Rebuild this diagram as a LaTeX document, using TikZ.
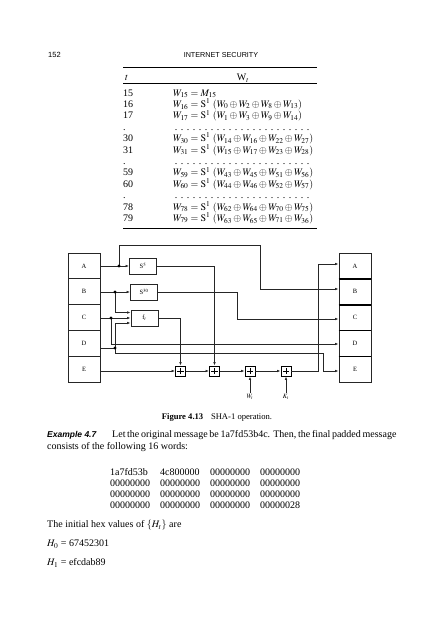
\documentclass[tikz,border=0pt]{standalone}
\usepackage{mathptmx}
\usepackage{fontspec}
\setmainfont{Liberation Serif}
\setsansfont{Liberation Sans}
\usetikzlibrary{arrows.meta}
\begin{document}
\begin{tikzpicture}[x=1pt,y=-1pt,
  conn/.style={line width=0.7pt,draw=black!85},
  arr/.style={conn,-{Latex[length=3.6pt,width=2.6pt]}},
  regbox/.style={draw=black!85,line width=0.7pt,minimum width=32pt,minimum height=25.8pt,inner sep=0pt,font=\fontsize{6.5}{7}\selectfont},
  funbox/.style={draw=black!85,line width=0.7pt,minimum width=27pt,minimum height=16pt,inner sep=0pt,font=\fontsize{6.5}{7}\selectfont},
  plusbox/.style={draw,line width=0.7pt,minimum size=10pt,inner sep=0pt,
    path picture={\draw[line width=0.9pt] ([xshift=-3.2pt]path picture bounding box.center) -- ([xshift=3.2pt]path picture bounding box.center) ([yshift=-3.2pt]path picture bounding box.center) -- ([yshift=3.2pt]path picture bounding box.center);}},
  body/.style={anchor=base west,inner sep=0pt,font=\fontsize{10}{12}\selectfont},
  tab/.style={anchor=base west,inner sep=0pt,font=\fontsize{10}{12}\selectfont},
  small/.style={inner sep=1pt,font=\fontsize{6.5}{7}\selectfont},
]
\useasboundingbox (0,0) rectangle (441,640);

% page header
\node[anchor=base west,inner sep=0pt,font=\sffamily\fontsize{7.5}{9}\selectfont] (pg) at (48,57) {152};
\node[anchor=base,inner sep=0pt,font=\sffamily\fontsize{7.2}{9}\selectfont] (hd) at (221,57) {INTERNET SECURITY};

% table
\draw[line width=0.9pt] (123,67) -- (317,67);
\draw[line width=0.5pt] (123,83) -- (317,83);
\draw[line width=0.9pt] (123,228) -- (317,228);
\node[tab] (th1) at (125,80.5) {$t$};
\node[anchor=base,inner sep=0pt,font=\fontsize{10}{12}\selectfont] (th2) at (243,80.5) {W$_t$};

\newcommand{\dotrow}{\hbox to 140pt{\leaders\hbox to 6pt{\hss.\hss}\hfill}}
\node[tab] (r0a) at (123,96) {15};
\node[tab] (r0b) at (173,96) {$W_{15}=M_{15}$};
\node[tab] (r1a) at (123,107.4) {16};
\node[tab] (r1b) at (173,107.4) {$W_{16}=\mathrm{S}^1\ (W_0\oplus W_2\oplus W_8\oplus W_{13})$};
\node[tab] (r2a) at (123,118.8) {17};
\node[tab] (r2b) at (173,118.8) {$W_{17}=\mathrm{S}^1\ (W_1\oplus W_3\oplus W_9\oplus W_{14})$};
\node[tab] (r3a) at (123,130.2) {.};
\node[tab] (r3b) at (173,130.2) {\dotrow};
\node[tab] (r4a) at (123,141.6) {30};
\node[tab] (r4b) at (173,141.6) {$W_{30}=\mathrm{S}^1\ (W_{14}\oplus W_{16}\oplus W_{22}\oplus W_{27})$};
\node[tab] (r5a) at (123,153) {31};
\node[tab] (r5b) at (173,153) {$W_{31}=\mathrm{S}^1\ (W_{15}\oplus W_{17}\oplus W_{23}\oplus W_{28})$};
\node[tab] (r6a) at (123,164.4) {.};
\node[tab] (r6b) at (173,164.4) {\dotrow};
\node[tab] (r7a) at (123,175.8) {59};
\node[tab] (r7b) at (173,175.8) {$W_{59}=\mathrm{S}^1\ (W_{43}\oplus W_{45}\oplus W_{51}\oplus W_{56})$};
\node[tab] (r8a) at (123,187.2) {60};
\node[tab] (r8b) at (173,187.2) {$W_{60}=\mathrm{S}^1\ (W_{44}\oplus W_{46}\oplus W_{52}\oplus W_{57})$};
\node[tab] (r9a) at (123,198.6) {.};
\node[tab] (r9b) at (173,198.6) {\dotrow};
\node[tab] (r10a) at (123,210) {78};
\node[tab] (r10b) at (173,210) {$W_{78}=\mathrm{S}^1\ (W_{62}\oplus W_{64}\oplus W_{70}\oplus W_{75})$};
\node[tab] (r11a) at (123,221.4) {79};
\node[tab] (r11b) at (173,221.4) {$W_{79}=\mathrm{S}^1\ (W_{63}\oplus W_{65}\oplus W_{71}\oplus W_{36})$};

% registers
\node[regbox] (la) at (84,265.9) {A};
\node[regbox] (lb) at (84,291.7) {B};
\node[regbox] (lc) at (84,317.5) {C};
\node[regbox] (ld) at (84,343.3) {D};
\node[regbox] (le) at (84,369.1) {E};
\node[regbox] (ra) at (355,265.9) {A};
\node[regbox] (rb) at (355,291.7) {B};
\node[regbox] (rc) at (355,317.5) {C};
\node[regbox] (rd) at (355,343.3) {D};
\node[regbox] (re) at (355,369.1) {E};
\draw[line width=1.4pt] (ra.south west) -- (ra.south east);
\draw[line width=1.4pt] (rb.south west) -- (rb.south east);
\draw[line width=1.4pt] (rc.south west) -- (rc.south east);
\draw[line width=1.4pt] (rd.south west) -- (rd.south east);

% function boxes
\node[funbox] (s5) at (143,266) {S$^{5}$};
\node[funbox] (s30) at (144,292) {S$^{30}$};
\node[funbox] (ft) at (144.5,318) {f$_t$};

% adders
\node[plusbox] (p1) at (180.5,371) {};
\node[plusbox] (p2) at (214.5,371) {};
\node[plusbox] (p3) at (250,371) {};
\node[plusbox] (p4) at (286,371) {};
\node[small] (wt) at (250,397) {$W_t$};
\node[small] (kt) at (286,397) {$K_t$};

% junctions
\coordinate (dA) at (119,266);
\coordinate (dB) at (115,292);
\coordinate (dC) at (111,318);
\coordinate (dD) at (115,348);

% connectors
\draw[arr] (la.east |- 0,266) -- (s5.west);
\draw[arr] (dA) |- (260,245) |- (rb.west |- 0,289);
\draw[arr] (s5.east) -| (p2.north);
\draw[arr] (lb.east |- 0,292) -- (s30.west);
\draw[arr] (dB) |- (ft.west |- 0,312.5);
\draw[arr] (s30.east) -| (237,319) -- (rc.west |- 0,319);
\draw[arr] (lc.east |- 0,318) -- (ft.west |- 0,318);
\draw[arr] (dC) |- (rd.west |- 0,344);
\draw[conn] (ld.east |- 0,348) -- (dD);
\draw[arr] (dD) |- (ft.west |- 0,323);
\draw[arr] (dD) |- (323,353) |- (re.west |- 0,371);
\draw[arr] (ft.east) -| (p1.north);
\draw[arr] (le.east |- 0,371) -- (p1.west);
\draw[arr] (p1) -- (p2);
\draw[arr] (p2) -- (p3);
\draw[arr] (p3) -- (p4);
\draw[arr] (wt) -- (p3.south);
\draw[arr] (kt) -- (p4.south);
\draw[arr] (p4.east) -- (318,371) |- (ra.west |- 0,264);
\foreach \d in {dA,dB,dC,dD} \fill (\d) circle (1.6);

% caption
\node[anchor=base,inner sep=0pt,font=\fontsize{8.6}{10}\selectfont] (cap) at (217,419) {\textbf{Figure 4.13}\hspace{0.9em}SHA-1 operation.};

% body text
\node[anchor=base west,inner sep=0pt,font=\sffamily\bfseries\itshape\fontsize{8.5}{12}\selectfont] (ex) at (47,437) {Example 4.7};
\node[body] (l1) at (112,437) {\makebox[279pt][s]{Let the original message be 1a7fd53b4c. Then, the final padded message}};
\node[body] (l2) at (47,449) {consists of the following 16 words:};

\node[body] (h11) at (110,475.5) {1a7fd53b};
\node[body] (h12) at (160,475.5) {4c800000};
\node[body] (h13) at (210,475.5) {00000000};
\node[body] (h14) at (260,475.5) {00000000};
\node[body] (h21) at (110,486.5) {00000000};
\node[body] (h22) at (160,486.5) {00000000};
\node[body] (h23) at (210,486.5) {00000000};
\node[body] (h24) at (260,486.5) {00000000};
\node[body] (h31) at (110,497.5) {00000000};
\node[body] (h32) at (160,497.5) {00000000};
\node[body] (h33) at (210,497.5) {00000000};
\node[body] (h34) at (260,497.5) {00000000};
\node[body] (h41) at (110,508.5) {00000000};
\node[body] (h42) at (160,508.5) {00000000};
\node[body] (h43) at (210,508.5) {00000000};
\node[body] (h44) at (260,508.5) {00000028};

\node[body] (l3) at (47,527.5) {The initial hex values of $\{H_t\}$ are};
\node[body] (l4) at (47,546.5) {$H_0$ = 67452301};
\node[body] (l5) at (47,565.5) {$H_1$ = efcdab89};
\end{tikzpicture}
\end{document}
